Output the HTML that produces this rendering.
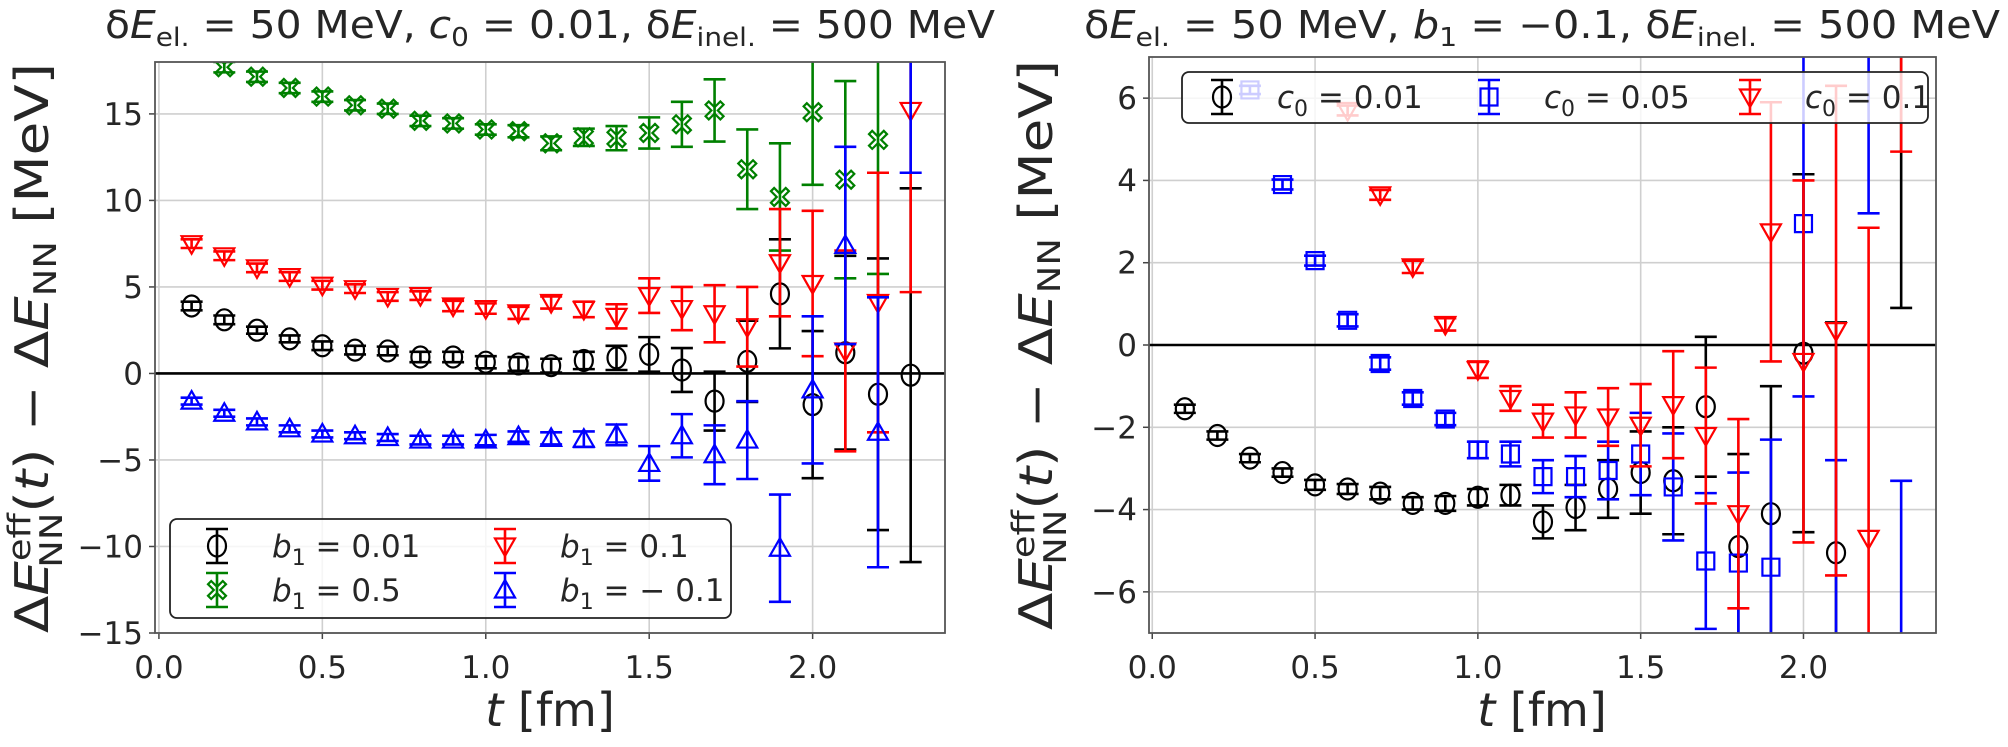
<!DOCTYPE html>
<html><head><meta charset="utf-8">
<style>
html,body{margin:0;padding:0;background:#fff;width:2008px;height:747px;overflow:hidden;}
svg{display:block;font-family:"DejaVu Sans","Liberation Sans",sans-serif;}
</style></head>
<body>
<svg id="fig" width="2008" height="747" viewBox="0 0 2008 747" xmlns="http://www.w3.org/2000/svg">
<defs>
<clipPath id="clipL"><rect x="155" y="62" width="790" height="571"/></clipPath>
<clipPath id="clipR"><rect x="1149" y="57" width="787" height="576"/></clipPath>
</defs>
</svg>
<script>
// ---------- data ----------
const times = [0.1,0.2,0.3,0.4,0.5,0.6,0.7,0.8,0.9,1.0,1.1,1.2,1.3,1.4,1.5,1.6,1.7,1.8,1.9,2.0,2.1,2.2,2.3];
// left panel: c0 = 0.01
const leftBlackY = [3.9,3.1,2.5,2.0,1.6,1.35,1.3,0.95,0.95,0.65,0.55,0.45,0.75,0.9,1.1,0.2,-1.6,0.7,4.6,-1.8,1.2,-1.2,-0.1];
const leftBlackE = [0.25,0.25,0.2,0.2,0.25,0.25,0.25,0.3,0.3,0.35,0.4,0.4,0.5,0.7,1.0,1.27,1.7,2.35,3.15,4.25,5.6,7.85,10.8];
const leftGreenY = [19.2,17.7,17.15,16.5,16.0,15.5,15.3,14.6,14.45,14.1,14.0,13.3,13.65,13.6,13.9,14.4,15.2,11.8,10.2,15.1,11.2,13.5,null];
const leftGreenE = [0.3,0.3,0.3,0.3,0.3,0.3,0.3,0.3,0.3,0.3,0.35,0.4,0.5,0.7,0.9,1.3,1.8,2.3,3.1,4.2,5.7,7.75,10.5];
const leftRedY = [7.5,6.8,6.1,5.6,5.1,4.9,4.45,4.5,3.9,3.75,3.5,4.1,3.7,3.3,4.5,3.75,3.45,2.7,6.4,5.2,1.3,4.1,15.2];
const leftRedE = [0.25,0.25,0.25,0.25,0.25,0.25,0.25,0.25,0.3,0.3,0.35,0.35,0.45,0.7,1.0,1.25,1.65,2.3,3.1,4.2,5.8,7.5,10.5];
const leftBlueY = [-1.6,-2.3,-2.8,-3.2,-3.5,-3.6,-3.7,-3.85,-3.85,-3.85,-3.65,-3.75,-3.8,-3.55,-5.2,-3.6,-4.7,-3.85,-10.1,-0.95,7.4,-3.4,22.1];
const leftBlueE = [0.2,0.2,0.2,0.2,0.2,0.2,0.2,0.25,0.25,0.3,0.3,0.35,0.45,0.6,1.0,1.25,1.7,2.25,3.1,4.25,5.7,7.8,10.5];
// right panel: b1 = -0.1
const rightBlackY = [-1.55,-2.2,-2.75,-3.1,-3.4,-3.5,-3.6,-3.85,-3.85,-3.7,-3.65,-4.3,-3.95,-3.5,-3.1,-3.3,-1.5,-4.9,-4.1,-0.2,-5.05,null,12.0];
const rightBlackE = [0.1,0.1,0.1,0.1,0.12,0.12,0.15,0.15,0.18,0.2,0.25,0.4,0.55,0.7,1.0,1.3,1.7,2.25,3.1,4.35,5.6,7.8,11.1];
const rightBlueY = [null,null,6.2,3.9,2.05,0.6,-0.45,-1.3,-1.8,-2.55,-2.65,-3.2,-3.2,-3.05,-2.65,-3.45,-5.25,-5.3,-5.4,2.95,-8.5,11.0,-14.0];
const rightBlueE = [0.1,0.1,0.1,0.12,0.12,0.15,0.15,0.15,0.15,0.2,0.3,0.4,0.5,0.7,1.0,1.3,1.65,2.2,3.1,4.2,5.7,7.8,10.7];
const rightRedY = [null,null,null,null,null,5.7,3.65,1.9,0.5,-0.6,-1.3,-1.85,-1.7,-1.75,-1.95,-1.45,-2.2,-4.1,2.75,-0.4,0.35,-4.7,12.0];
const rightRedE = [0.1,0.1,0.1,0.1,0.1,0.12,0.12,0.15,0.15,0.2,0.3,0.4,0.55,0.7,1.0,1.3,1.65,2.3,3.15,4.4,5.95,7.55,7.3];
const xTicks = [0.0,0.5,1.0,1.5,2.0];
const xTickLabels = ["0.0","0.5","1.0","1.5","2.0"];
const leftYTicks = [-15,-10,-5,0,5,10,15];
const leftYTickLabels = ["−15","−10","−5","0","5","10","15"];
const rightYTicks = [-6,-4,-2,0,2,4,6];
const rightYTickLabels = ["−6","−4","−2","0","2","4","6"];

// ---------- helpers ----------
const NS = "http://www.w3.org/2000/svg";
const svg = document.getElementById('fig');
function mk(tag, attrs, parent){
  const e = document.createElementNS(NS, tag);
  for (const k in attrs) e.setAttribute(k, attrs[k]);
  (parent||svg).appendChild(e);
  return e;
}
function markerPath(kind, cx, cy){
  const s = 10;
  if (kind==='s') return `M${cx-s*0.85},${cy-s*0.85}h${s*1.7}v${s*1.7}h${-s*1.7}Z`;
  if (kind==='v') return `M${cx-s},${cy-s*0.75}L${cx+s},${cy-s*0.75}L${cx},${cy+s}Z`;
  if (kind==='^') return `M${cx-s},${cy+s*0.75}L${cx+s},${cy+s*0.75}L${cx},${cy-s}Z`;
  if (kind==='X'){
    const a=0.32*s, b=s*0.9;
    const pts=[[0,-a],[b-a,-b],[b,-b+a],[a,0],[b,b-a],[b-a,b],[0,a],[-b+a,b],[-b,b-a],[-a,0],[-b,-b+a],[-b+a,-b]];
    return 'M'+pts.map(p=>(cx+p[0])+','+(cy+p[1])).join('L')+'Z';
  }
  return null;
}
function panel(P){
  const g = mk('g',{});
  
  
  const X = v => P.x0 + (v - P.xmin)/(P.xmax-P.xmin)*P.w;
  const Y = v => P.y0 + (P.ymax - v)/(P.ymax-P.ymin)*P.h;
  const top = P.y0, bot = P.y0 + P.h;
  xTicks.forEach((t,i)=>{
    const l = mk('line',{x1:X(t),x2:X(t),y1:P.y0,y2:P.y0+P.h,stroke:'#cfcfcf','stroke-width':1.6},g);
    
    
    const tk = mk('line',{x1:X(t),x2:X(t),y1:P.y0+P.h,y2:P.y0+P.h+6,stroke:'#444','stroke-width':1.5},g);
    
    
    const tx = mk('text',{x:X(t),y:P.y0+P.h+45,'text-anchor':'middle','font-size':31,fill:'#262626'},g);
    tx.textContent = xTickLabels[i];
    
    
  });
  P.yt.forEach((t,i)=>{
    const l = mk('line',{x1:P.x0,x2:P.x0+P.w,y1:Y(t),y2:Y(t),stroke:'#cfcfcf','stroke-width':1.6},g);
    
    
    const tk = mk('line',{x1:P.x0-6,x2:P.x0,y1:Y(t),y2:Y(t),stroke:'#444','stroke-width':1.5},g);
    
    
    const tx = mk('text',{x:P.x0-12,y:Y(t)+11,'text-anchor':'end','font-size':31,fill:'#262626'},g);
    tx.textContent = P.ytl[i];
    
    
  });
  const z = mk('line',{x1:P.x0,x2:P.x0+P.w,y1:Y(0),y2:Y(0),stroke:'#000','stroke-width':2.6},g);
  
  
  const dg = mk('g',{'clip-path':`url(#${P.clip})`},g);
  P.series.forEach(S=>{
    const sg = mk('g',{},dg);
    
    
    times.forEach((t,i)=>{
      const v = S.y[i]; if (v===null || v===undefined) return;
      const e = S.e[i];
      const cx = X(t), cy = Y(v), yt = Y(v+e), yb = Y(v-e);
      if (yb < top || yt > bot) return;
      const yt2 = Math.max(yt, top-2), yb2 = Math.min(yb, bot+2);
      let d = `M${cx},${yt2}V${yb2}`;
      if (yt >= top-2) d += `M${cx-11},${yt}h22`;
      if (yb <= bot+2) d += `M${cx-11},${yb}h22`;
      const bar = mk('path',{d:d,stroke:S.c,'stroke-width':2.6,fill:'none'},sg);
      
      
      if (cy < top-12 || cy > bot+12) return;
      let m;
      if (S.m==='o') m = mk('ellipse',{cx:cx,cy:cy,rx:9,ry:10.5,fill:'none',stroke:S.c,'stroke-width':2.2},sg);
      else m = mk('path',{d:markerPath(S.m,cx,cy),fill:'none',stroke:S.c,'stroke-width':2.2},sg);
      
      
    });
  });
  const fr = mk('rect',{x:P.x0,y:P.y0,width:P.w,height:P.h,fill:'none',stroke:'#555','stroke-width':1.8},g);
  
  
  return g;
}
function legendEntry(parent, x, y, kind, color, label1, sub, label2){
  const g = mk('g',{},parent);
  
  
  mk('path',{d:`M${x},${y-17}V${y+17}M${x-11},${y-17}h22M${x-11},${y+17}h22`,stroke:color,'stroke-width':2.6,fill:'none'},g);
  if (kind==='o') mk('ellipse',{cx:x,cy:y,rx:9,ry:10.5,fill:'none',stroke:color,'stroke-width':2.2},g);
  else mk('path',{d:markerPath(kind,x,y),fill:'none',stroke:color,'stroke-width':2.2},g);
  const t = mk('text',{x:x+55,y:y+11,'font-size':31,fill:'#262626'},g);
  t.innerHTML = `<tspan font-style="italic">${label1}</tspan><tspan font-size="22" dy="8">${sub}</tspan><tspan dy="-8"> = ${label2}</tspan>`;
}
function ylabel(x, y, len){
  const t = mk('text',{transform:`translate(${x},${y}) rotate(-90)`,'text-anchor':'middle','font-size':46,fill:'#262626',textLength:len,lengthAdjust:'spacingAndGlyphs'});
  
  
  t.innerHTML = `Δ<tspan font-style="italic">E</tspan><tspan font-size="31" dy="-18">eff</tspan><tspan font-size="31" dx="-46" dy="32">NN</tspan><tspan dy="-14">(</tspan><tspan font-style="italic">t</tspan>) − Δ<tspan font-style="italic">E</tspan><tspan font-size="31" dy="8">NN</tspan><tspan dy="-8"> [MeV]</tspan>`;
}
function xlabel(x){
  const t = mk('text',{x:x,y:726,'text-anchor':'middle','font-size':46,fill:'#262626'});
  
  
  t.innerHTML = `<tspan font-style="italic">t</tspan> [fm]`;
}
function title(x, mid, len){
  const t = mk('text',{x:x,y:38,'text-anchor':'middle','font-size':38,fill:'#262626',textLength:len,lengthAdjust:'spacingAndGlyphs'});
  
  
  t.innerHTML = `δ<tspan font-style="italic">E</tspan><tspan font-size="26" dy="8">el.</tspan><tspan dy="-8"> = 50 MeV, </tspan>${mid}, δ<tspan font-style="italic">E</tspan><tspan font-size="26" dy="8">inel.</tspan><tspan dy="-8"> = 500 MeV</tspan>`;
}

// ---------- left panel ----------
panel({name:'left-panel',x0:155,y0:62,w:790,h:571,xmin:-0.012,xmax:2.405,ymin:-15,ymax:18,
  yt:leftYTicks,ytl:leftYTickLabels,clip:'clipL',
  series:[
    {name:'series-b1-0.01',y:leftBlackY,e:leftBlackE,c:'#000000',m:'o'},
    {name:'series-b1-0.5',y:leftGreenY,e:leftGreenE,c:'#008000',m:'X'},
    {name:'series-b1-0.1',y:leftRedY,e:leftRedE,c:'#ff0000',m:'v'},
    {name:'series-b1-neg0.1',y:leftBlueY,e:leftBlueE,c:'#0000ff',m:'^'}
  ]});
const legL = mk('g',{});


mk('rect',{x:170,y:519,width:561,height:99,rx:7,fill:'#fff','fill-opacity':0.8,stroke:'#222','stroke-width':1.8},legL);
legendEntry(legL,217,546,'o','#000000','b','1','0.01');
legendEntry(legL,217,590,'X','#008000','b','1','0.5');
legendEntry(legL,505,546,'v','#ff0000','b','1','0.1');
legendEntry(legL,505,590,'^','#0000ff','b','1','− 0.1');
title(550,'<tspan font-style="italic">c</tspan><tspan font-size="26" dy="8">0</tspan><tspan dy="-8"> = 0.01</tspan>',890);
ylabel(48,348,570);
xlabel(550);

// ---------- right panel ----------
panel({name:'right-panel',x0:1149,y0:57,w:787,h:576,xmin:-0.01,xmax:2.407,ymin:-7,ymax:7,
  yt:rightYTicks,ytl:rightYTickLabels,clip:'clipR',
  series:[
    {name:'series-c0-0.01',y:rightBlackY,e:rightBlackE,c:'#000000',m:'o'},
    {name:'series-c0-0.05',y:rightBlueY,e:rightBlueE,c:'#0000ff',m:'s'},
    {name:'series-c0-0.1',y:rightRedY,e:rightRedE,c:'#ff0000',m:'v'}
  ]});
const legR = mk('g',{});


mk('rect',{x:1182,y:72,width:746,height:51,rx:7,fill:'#fff','fill-opacity':0.8,stroke:'#222','stroke-width':1.8},legR);
legendEntry(legR,1222,97,'o','#000000','c','0','0.01');
legendEntry(legR,1489,97,'s','#0000ff','c','0','0.05');
legendEntry(legR,1750,97,'v','#ff0000','c','0','0.1');
title(1542,'<tspan font-style="italic">b</tspan><tspan font-size="26" dy="8">1</tspan><tspan dy="-8"> = −0.1</tspan>',916);
ylabel(1052,345,570);
xlabel(1542);
</script>
</body></html>
